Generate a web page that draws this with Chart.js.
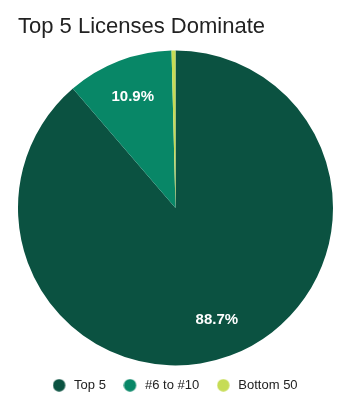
<!DOCTYPE html>
<html>
<head>
<meta charset="utf-8">
<script src="https://cdn.jsdelivr.net/npm/chart.js@4/dist/chart.umd.min.js"></script>
<style>
  html, body { margin: 0; padding: 0; background: #fff; }
  #wrap { width: 351px; height: 408px; position: relative; }
</style>
</head>
<body>
<div id="wrap"><canvas id="c"></canvas></div>
<script>
const titleText = 'Top 5 Licenses Dominate';
const categories = ['Top 5', '#6 to #10', 'Bottom 50'];
const shares = [88.7, 10.9, 0.4];
const colors = ['#0b5241', '#088767', '#c6dc55'];

const FONT = "'Liberation Sans', Arial, sans-serif";

function dot(color) {
  const c = document.createElement('canvas');
  c.width = 16; c.height = 13;
  const g = c.getContext('2d');
  g.fillStyle = color;
  g.beginPath();
  g.arc(6.6, 6.5, 6.2, 0, Math.PI * 2);
  g.fill();
  return c;
}

const sliceLabels = {
  id: 'sliceLabels',
  afterDatasetsDraw(chart) {
    const ctx = chart.ctx;
    const meta = chart.getDatasetMeta(0);
    const data = chart.data.datasets[0].data;
    const total = data.reduce((a, b) => a + b, 0);
    ctx.save();
    ctx.fillStyle = '#ffffff';
    ctx.font = 'bold 15px ' + FONT;
    ctx.textAlign = 'center';
    ctx.textBaseline = 'middle';
    meta.data.forEach((arc, i) => {
      const pct = data[i] / total * 100;
      if (pct < 5) return;
      const p = arc.getProps(['x', 'y', 'startAngle', 'endAngle', 'outerRadius'], true);
      const mid = (p.startAngle + p.endAngle) / 2;
      const r = p.outerRadius * 0.755;
      ctx.fillText(pct.toFixed(1) + '%', p.x + Math.cos(mid) * r, p.y + Math.sin(mid) * r);
    });
    ctx.restore();
  }
};

// nudge the legend row up a little (its top padding also sets item spacing)
const legendNudge = {
  id: 'legendNudge',
  afterLayout(chart) {
    if (chart.legend) {
      chart.legend.top -= 5;
      chart.legend.bottom -= 5;
    }
  }
};

new Chart(document.getElementById('c'), {
  type: 'pie',
  data: {
    labels: categories,
    datasets: [{
      data: shares,
      backgroundColor: colors,
      borderWidth: 0
    }]
  },
  options: {
    responsive: true,
    maintainAspectRatio: false,
    animation: false,
    layout: { padding: { left: 18, right: 18, top: 0, bottom: 1.2 } },
    plugins: {
      title: {
        display: true,
        text: titleText,
        align: 'start',
        color: '#222',
        font: { family: FONT, size: 22, weight: 'normal' },
        padding: { top: 14, bottom: 10 }
      },
      legend: {
        position: 'bottom',
        labels: {
          usePointStyle: true,
          pointStyleWidth: 14.2,
          color: '#222',
          font: { family: FONT, size: 13 },
          padding: 18.4,
          generateLabels(chart) {
            const items = Chart.overrides.pie.plugins.legend.labels.generateLabels(chart);
            items.forEach((it, i) => { it.pointStyle = dot(colors[i]); });
            return items;
          }
        }
      },
      tooltip: { enabled: false }
    }
  },
  plugins: [sliceLabels, legendNudge]
});
</script>
</body>
</html>
